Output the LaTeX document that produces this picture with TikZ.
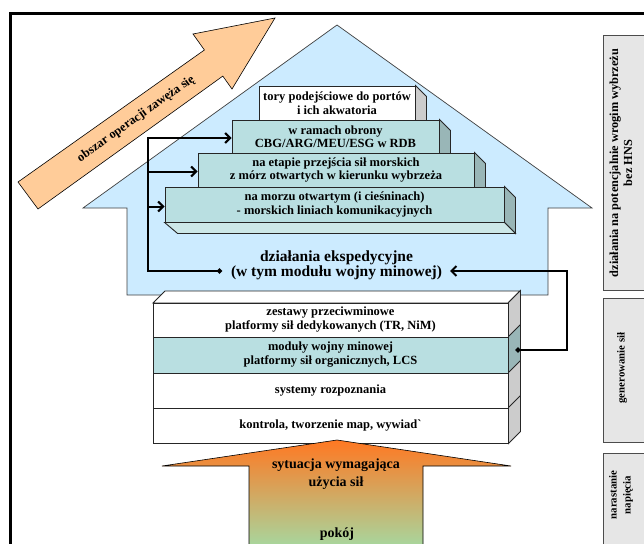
\documentclass[tikz,border=0pt]{standalone}
\usepackage{fontspec}
\setmainfont{Liberation Serif}
\usetikzlibrary{arrows.meta,calc}
\definecolor{houseblue}{HTML}{CCEBFF}
\definecolor{peach}{HTML}{FFCC99}
\definecolor{tealf}{HTML}{B9DFE1}
\definecolor{teals}{HTML}{99B6B7}
\definecolor{tealb}{HTML}{CDE8E8}
\definecolor{grays}{HTML}{CCCCCC}
\definecolor{sidebox}{HTML}{E6E6E6}
\definecolor{arrorange}{HTML}{FF7822}
\definecolor{arrmid}{HTML}{D8B485}
\definecolor{arrgreen}{HTML}{A6D8A0}
\begin{document}
\begin{tikzpicture}[x=1pt,y=-1pt,
  lbl/.style={font=\fontsize{12.5}{13.5}\selectfont\bfseries, align=center, inner sep=0pt},
  front/.style={draw=black!85, line width=0.9pt, align=center, inner sep=0pt,
    font=\fontsize{12.5}{13.5}\selectfont\bfseries},
  face/.style={draw=black!85, line width=0.9pt},
  conn/.style={line width=2pt, black},
  barb/.style={-{Straight Barb[length=5pt,width=10pt,line width=2pt]}},
  sidelbl/.style={draw=black!70, line width=0.7pt, fill=sidebox, inner sep=0pt,
    anchor=north west},
  rot/.style={font=\fontsize{10.8}{14}\selectfont\bfseries, align=center, rotate=90, inner sep=0pt}]
\useasboundingbox (0,0) rectangle (644,543);
\clip (0,0) rectangle (644,543);
\fill[white] (0,0) rectangle (644,543);
% frame
\draw[line width=2.8pt] (10.7,560) -- (10.7,13.8) -- (660,13.8);
% diagonal arrow
\draw[fill=peach, draw=black, line width=0.6pt]
  (18,182) -- (204.4,50) -- (193,34) -- (275,18) -- (232,89) -- (222.8,76.1) -- (38,209) -- cycle;
\node[lbl, font=\fontsize{12.5}{13}\selectfont\bfseries, rotate=35.3] (narrow) at (136,119) {obszar operacji zawęża się};
% house
\draw[fill=houseblue, draw=black!75, line width=0.7pt]
  (337,25) -- (592,208) -- (548,208) -- (548,295) -- (127,295) -- (127,208) -- (83,208) -- cycle;
% step boxes
\node[front, fill=white, minimum width=156pt, minimum height=34pt] (b1) at (337,103) {tory podejściowe do portów\\i ich akwatoria};
\draw[face, fill=grays] (b1.north east) -- ++(11,11) -- ($(b1.south east)+(11,11)$) -- (b1.south east) -- cycle;
\node[front, fill=tealf, minimum width=207pt, minimum height=33pt] (b2) at (335.5,136.5) {w ramach obrony\\CBG/ARG/MEU/ESG w RDB};
\draw[face, fill=teals] (b2.north east) -- ++(11,11) -- ($(b2.south east)+(11,11)$) -- (b2.south east) -- cycle;
\node[front, fill=tealf, minimum width=276pt, minimum height=34pt] (b3) at (336,170) {na etapie przejścia sił morskich\\z mórz otwartych w kierunku wybrzeża};
\draw[face, fill=teals] (b3.north east) -- ++(11,11) -- ($(b3.south east)+(11,11)$) -- (b3.south east) -- cycle;
\node[front, fill=tealf, minimum width=339pt, minimum height=35pt] (b4) at (334.5,204.5) {na morzu otwartym (i cieśninach)\\- morskich liniach komunikacyjnych};
\draw[face, fill=teals] (b4.north east) -- ++(11,11) -- ($(b4.south east)+(11,11)$) -- (b4.south east) -- cycle;
\draw[face, fill=tealb] (b4.south west) -- (b4.south east) -- ++(11,11) -- ($(b4.south west)+(13,11)$) -- cycle;
% expedition text
\node[lbl, font=\fontsize{15.5}{15}\selectfont\bfseries] (exp) at (336.5,265) {działania ekspedycyjne\\(w tym modułu wojny minowej)};
\coordinate (dotL) at (222,271);
\coordinate (jn) at (148,271);
\coordinate (t2) at ([yshift=-1.5pt]b2.west);
\coordinate (t3) at ([yshift=-1.5pt]b3.west);
\coordinate (t4) at ([yshift=-2pt]b4.west);
\draw[conn, {Circle[length=5pt]}-{Straight Barb[length=5pt,width=10pt,line width=2pt]}] (dotL) -- (jn) |- (t2);
\draw[conn, barb] (jn |- t3) -- (t3);
\draw[conn, barb] (jn |- t4) -- (t4);
% lower stack
\draw[face, fill=white] (153,303) -- (165,291) -- (520,291) -- (508,303) -- cycle;
\node[front, fill=white, minimum width=355pt, minimum height=34pt, font=\fontsize{12.5}{14}\selectfont\bfseries] (r1) at (330.5,320) {zestawy przeciwminowe\\platformy sił dedykowanych (TR, NiM)};
\node[front, fill=tealf, minimum width=355pt, minimum height=36pt, font=\fontsize{12.5}{14}\selectfont\bfseries] (r2) at (330.5,355) {moduły wojny minowej\\platformy sił organicznych, LCS};
\node[front, fill=white, minimum width=355pt, minimum height=35pt] (r3) at (330.5,390.5) {systemy rozpoznania};
\node[front, fill=white, minimum width=355pt, minimum height=35pt] (r4) at (330.5,425.5) {kontrola, tworzenie map, wywiad\textasciigrave};
\foreach \r/\c in {r1/grays, r2/teals, r3/grays, r4/grays}{
  \draw[face, fill=\c] (\r.north east) -- ++(12,-12) -- ($(\r.south east)+(12,-12)$) -- (\r.south east) -- cycle;
}
% right connector
\coordinate (dotR) at (515.5,350);
\coordinate (arrR) at (450,271);
\draw[conn, {Circle[length=5pt]}-{Straight Barb[length=5pt,width=10pt,line width=2pt]}] (dotR) -- (567,350) |- (arrR);
% bottom arrow
\shade[top color=arrorange, middle color=arrmid, bottom color=arrgreen, draw=black, line width=0.6pt]
  (249,548) -- (249,466) -- (162,466) -- (337,440) -- (511,466) -- (423,466) -- (423,548) -- cycle;
\node[lbl, font=\fontsize{14}{17.5}\selectfont\bfseries] (sit) at (336,474) {sytuacja wymagająca\\użycia sił};
\node[lbl, font=\fontsize{14}{17.5}\selectfont\bfseries] (peace) at (337,534) {pokój};
% right-hand phase boxes
\node[sidelbl, minimum width=50pt, minimum height=255pt] (p1) at (603,35) {};
\node[rot, font=\fontsize{12.3}{14}\selectfont\bfseries] at (621,163) {działania na potencjalnie wrogim wybrzeżu\\bez HNS};
\node[sidelbl, minimum width=50pt, minimum height=144pt] (p2) at (603,298) {};
\node[rot] at (622,368) {generowanie sił};
\node[sidelbl, minimum width=50pt, minimum height=120pt] (p3) at (603,453) {};
\node[rot] at (621,495) {narastanie\\napięcia};
\end{tikzpicture}
\end{document}
